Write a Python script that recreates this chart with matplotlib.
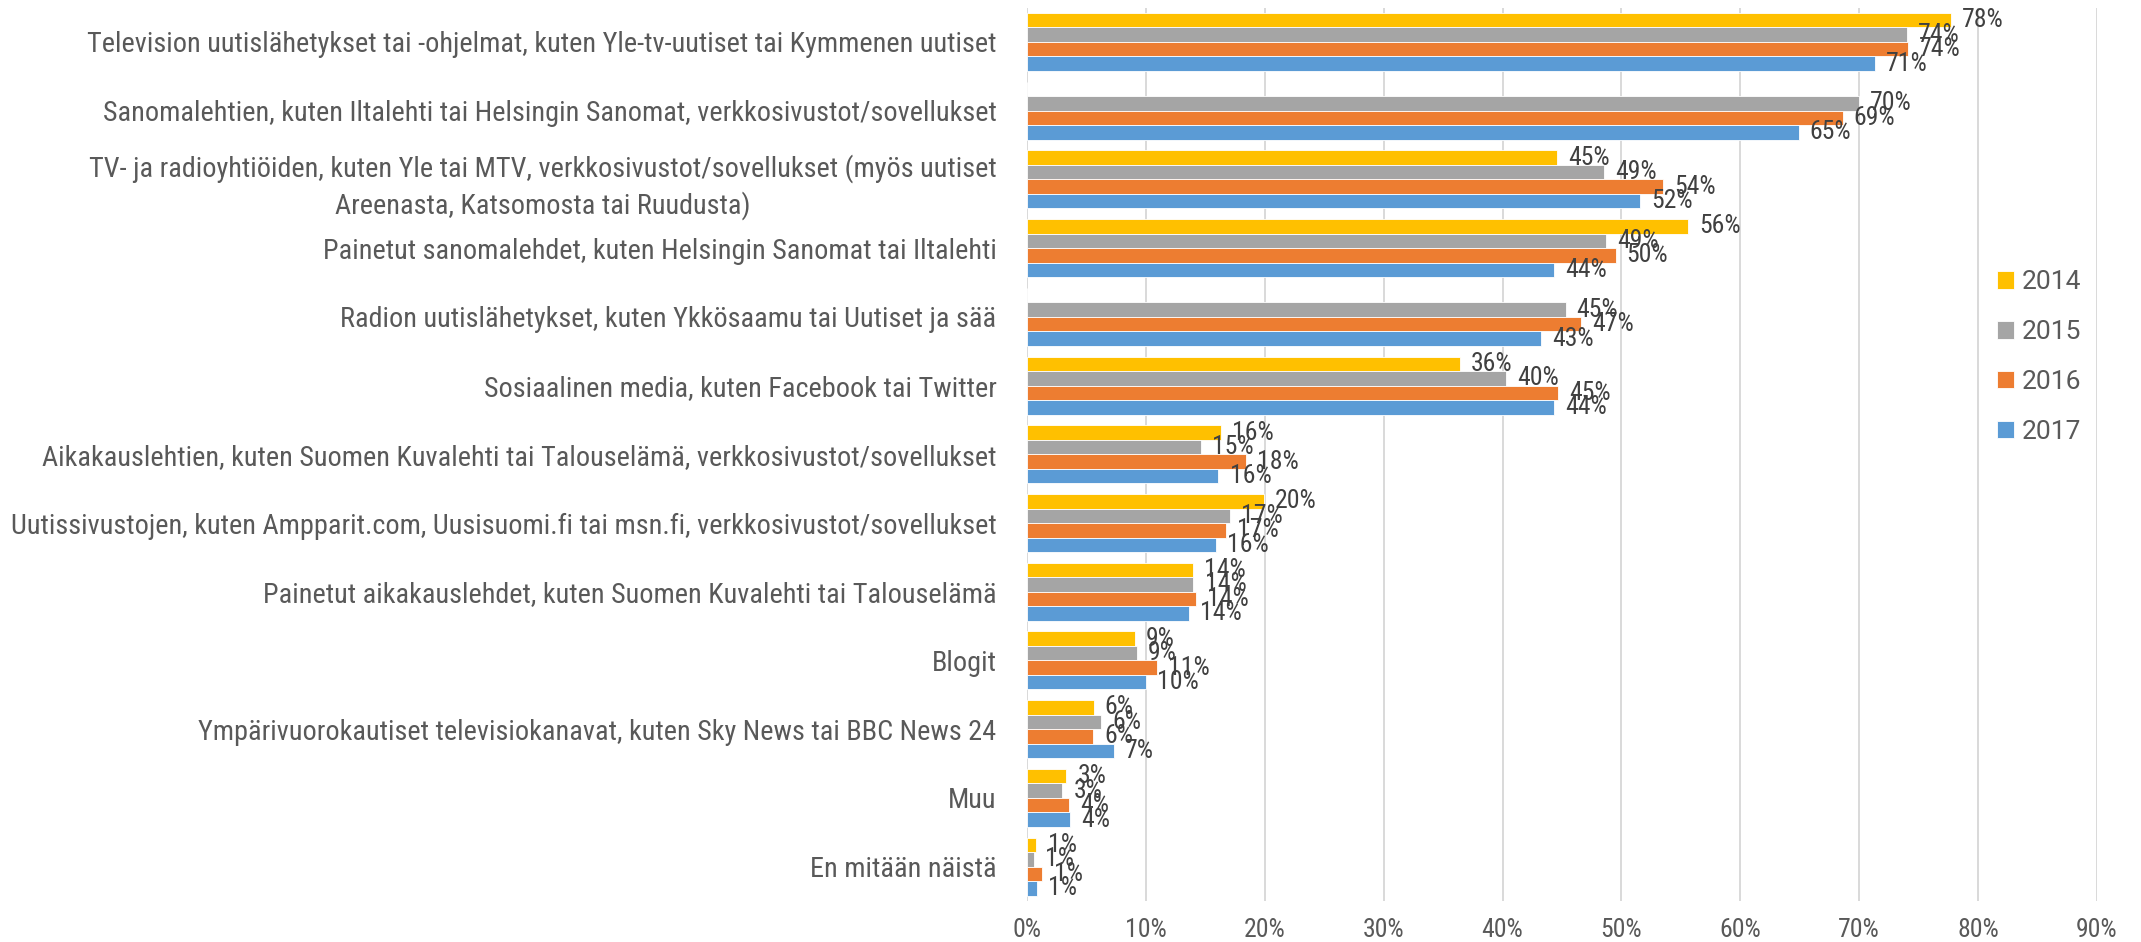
import numpy as np
import matplotlib
matplotlib.use("Agg")
import matplotlib.pyplot as plt
from matplotlib import font_manager
from matplotlib.font_manager import FontProperties

categories = [
    "Television uutislähetykset tai -ohjelmat, kuten Yle-tv-uutiset tai Kymmenen uutiset",
    "Sanomalehtien, kuten Iltalehti tai Helsingin Sanomat, verkkosivustot/sovellukset",
    "TV- ja radioyhtiöiden, kuten Yle tai MTV, verkkosivustot/sovellukset (myös uutiset\nAreenasta, Katsomosta tai Ruudusta)",
    "Painetut sanomalehdet, kuten Helsingin Sanomat tai Iltalehti",
    "Radion uutislähetykset, kuten Ykkösaamu tai Uutiset ja sää",
    "Sosiaalinen media, kuten Facebook tai Twitter",
    "Aikakauslehtien, kuten Suomen Kuvalehti tai Talouselämä, verkkosivustot/sovellukset",
    "Uutissivustojen, kuten Ampparit.com, Uusisuomi.fi tai msn.fi, verkkosivustot/sovellukset",
    "Painetut aikakauslehdet, kuten Suomen Kuvalehti tai Talouselämä",
    "Blogit",
    "Ympärivuorokautiset televisiokanavat, kuten Sky News tai BBC News 24",
    "Muu",
    "En mitään näistä",
]
years = ["2014", "2015", "2016", "2017"]
nan = np.nan
vals_2014 = [77.7, nan, 44.6, 55.6, nan, 36.4, 16.3, 19.9, 13.95, 9.08, 5.6, 3.3, 0.79]
vals_2015 = [74.0, 70.0, 48.5, 48.7, 45.3, 40.3, 14.6, 17.1, 14.0, 9.26, 6.26, 2.96, 0.55]
vals_2016 = [74.1, 68.6, 53.5, 49.5, 46.6, 44.7, 18.4, 16.7, 14.2, 10.9, 5.55, 3.5, 1.3]
vals_2017 = [71.3, 64.9, 51.6, 44.3, 43.2, 44.3, 16.1, 15.9, 13.65, 9.98, 7.3, 3.6, 0.86]
x_ticks = [0, 10, 20, 30, 40, 50, 60, 70, 80, 90]
x_tick_labels = [f"{t}%" for t in x_ticks]

colors = ["#FFC000", "#A5A5A5", "#ED7D31", "#5B9BD5"]
series = [vals_2014, vals_2015, vals_2016, vals_2017]

# pick a narrow / condensed font if one is installed
def pick_font():
    tl = font_manager.fontManager.ttflist
    for f in tl:
        if f.name == "Liberation Sans Narrow" and f.style == "normal" and f.weight in (400, "normal", "regular"):
            return FontProperties(fname=f.fname)
    for fam in ["Roboto Condensed", "Open Sans Condensed", "Noto Sans Condensed", "DejaVu Sans Condensed"]:
        for f in tl:
            if f.name == fam and f.style == "normal" and f.weight in (300, 400, "normal", "regular", "light"):
                return FontProperties(fname=f.fname)
    for fam in ["Noto Sans", "Roboto", "Open Sans", "DejaVu Sans"]:
        for f in tl:
            if f.name == fam and f.style == "normal" and str(f.stretch) in ("condensed", "semi-condensed") \
                    and f.weight in (400, "normal", "regular"):
                return FontProperties(fname=f.fname)
    return FontProperties(family="Roboto")

base_fp = pick_font()

W, H = 2141, 942
fig = plt.figure(figsize=(W / 100, H / 100), dpi=100)
ax = fig.add_axes([1027 / W, 1 - 901 / H, (2097 - 1027) / W, (901 - 7.6) / H])

# fit font size so the widest category label spans ~986 px
renderer = fig.canvas.get_renderer()
probe_fp = base_fp.copy()
probe_fp.set_size(18)
maxw = 0
for c in categories:
    for line in c.split("\n"):
        t = fig.text(0, 0, line, fontproperties=probe_fp)
        maxw = max(maxw, t.get_window_extent(renderer).width)
        t.remove()
fs = min(21.0, 18.0 * 986.0 / maxw)
cat_fp = base_fp.copy()
cat_fp.set_size(fs)
lab_fp = base_fp.copy()
lab_fp.set_size(min(18.5, fs))

n = len(categories)
y = np.arange(n)
h = 0.211
offsets = [-1.5 * h, -0.5 * h, 0.5 * h, 1.5 * h]
handles = []
for vals, col, off, yr in zip(series, colors, offsets, years):
    v = np.array(vals, dtype=float)
    bars = ax.barh(y + off, np.nan_to_num(v), height=h, color=col,
                   edgecolor="white", linewidth=0.6, label=yr, zorder=3)
    handles.append(bars)
    for yi, val in zip(y, v):
        if np.isnan(val):
            continue
        ax.annotate(f"{int(val + 0.5)}%", xy=(val, yi + off), xytext=(8, 0),
                    textcoords="offset points", va="center", ha="left",
                    fontproperties=lab_fp, color="#404040", zorder=4)

ax.set_xlim(0, 90)
ax.set_ylim(n - 0.5, -0.5)
ax.set_xticks(x_ticks)
ax.set_xticklabels(x_tick_labels)
ax.set_yticks(y)
ax.set_yticklabels(categories, multialignment="center", linespacing=1.4)
for lab in ax.get_yticklabels():
    lab.set_fontproperties(cat_fp)
    lab.set_color("#595959")
for lab in ax.get_xticklabels():
    lab.set_fontproperties(lab_fp)
    lab.set_color("#595959")
ax.tick_params(axis="y", length=0, pad=22)
ax.tick_params(axis="x", length=0, pad=12)
for s in ax.spines.values():
    s.set_visible(False)
ax.xaxis.grid(True, color="#D9D9D9", linewidth=1.4, zorder=0)
ax.set_axisbelow(True)

leg = fig.legend(handles=handles, labels=years, loc="center left",
                 bbox_to_anchor=(1997 / W, 1 - 357 / H), frameon=False,
                 prop={"family": "Roboto", "size": 19},
                 handlelength=0.65, handleheight=0.65, handletextpad=0.3,
                 labelspacing=0.98, borderpad=0, borderaxespad=0)
for t in leg.get_texts():
    t.set_color("#595959")

fig.savefig("out.png", dpi=100)
